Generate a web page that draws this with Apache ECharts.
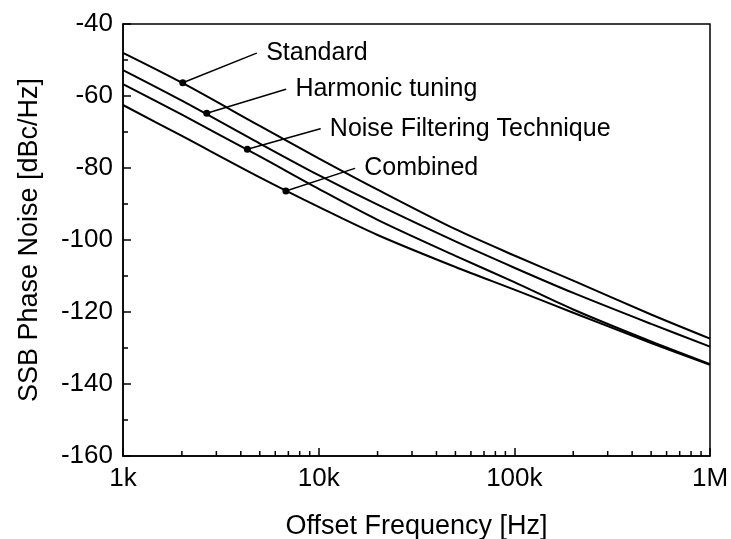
<!DOCTYPE html>
<html>
<head>
<meta charset="utf-8">
<script src="https://cdn.jsdelivr.net/npm/echarts@6/dist/echarts.min.js"></script>
<style>
  html, body { margin: 0; padding: 0; background: #fff; }
  #main { width: 731px; height: 539px; }
</style>
</head>
<body>
<div id="main"></div>
<script>
// offset frequency points (Hz)
var freqs = [1000, 2000, 5000, 10000, 20000, 50000, 100000, 200000, 500000, 1000000];

// SSB phase noise, dBc/Hz
var standard = [-48.0, -56.3, -68.3, -77.3, -86.0, -97.0, -104.3, -111.3, -120.7, -127.4];
var harmonic = [-52.8, -61.3, -73.2, -82.0, -90.2, -100.4, -107.7, -114.7, -123.3, -129.6];
var noiseFilt = [-56.7, -65.2, -76.8, -85.8, -94.4, -104.4, -111.7, -119.3, -128.2, -134.5];
var combined = [-62.5, -71.1, -82.6, -90.8, -98.6, -107.5, -113.8, -120.2, -128.6, -134.7];

// annotation: [dot freq, dot value, leader end freq, leader end value]
var annStandard = [2020, -56.3, 4820, -48.1];
var annHarmonic = [2680, -64.8, 6800, -58.1];
var annNoise = [4320, -74.8, 10200, -69.1];
var annCombined = [6800, -86.4, 15300, -80.1];

var xTickLabels = { 1000: '1k', 10000: '10k', 100000: '100k', 1000000: '1M' };
var decades = [1000, 10000, 100000];
var minorMult = [2, 3, 4, 5, 6, 7, 8, 9];

var FONT = '"Liberation Sans", Arial, sans-serif';

function pairs(ys) {
  var out = [];
  for (var i = 0; i < freqs.length; i++) out.push([freqs[i], ys[i]]);
  return out;
}

function curve(name, ys) {
  return {
    name: name,
    type: 'line',
    data: pairs(ys),
    smooth: 0.3,
    symbol: 'none',
    lineStyle: { color: '#000', width: 2 },
    silent: true
  };
}

function leader(name, a) {
  return {
    name: name + ' label',
    type: 'line',
    showAllSymbol: true,
    data: [
      { value: [a[0], a[1]], symbol: 'circle', symbolSize: 7 },
      {
        value: [a[2], a[3]], symbol: 'circle', symbolSize: 1,
        label: {
          show: true, position: 'right', distance: 9,
          formatter: name, color: '#000', fontSize: 25, fontFamily: FONT
        }
      }
    ],
    lineStyle: { color: '#000', width: 1.5 },
    itemStyle: { color: '#000' },
    labelLayout: { hideOverlap: false },
    silent: true
  };
}

var minorTicks = [];
decades.forEach(function (d) {
  minorMult.forEach(function (m) { minorTicks.push([d * m, -160]); });
});

var chart = echarts.init(document.getElementById('main'));
chart.setOption({
  animation: false,
  backgroundColor: '#fff',
  grid: {
    left: 123, right: 21, top: 24, bottom: 83,
    outerBoundsMode: 'none',
    show: true, borderColor: '#000', borderWidth: 1.5
  },
  xAxis: {
    type: 'log',
    logBase: 10,
    min: 1000,
    max: 1000000,
    name: 'Offset Frequency [Hz]',
    nameLocation: 'middle',
    nameGap: 57,
    nameTextStyle: { color: '#000', fontSize: 27, fontFamily: FONT },
    axisLine: { lineStyle: { color: '#000', width: 1.5 } },
    axisTick: { inside: true, length: 8, lineStyle: { color: '#000', width: 1.5 } },
    axisLabel: {
      color: '#000', fontSize: 26, fontFamily: FONT, margin: 10,
      formatter: function (v) { return xTickLabels[Math.round(v)] || ''; }
    },
    splitLine: { show: false }
  },
  yAxis: {
    type: 'value',
    min: -160,
    max: -40,
    interval: 20,
    name: 'SSB Phase Noise [dBc/Hz]',
    nameLocation: 'middle',
    nameGap: 80,
    nameTextStyle: { color: '#000', fontSize: 27, fontFamily: FONT },
    axisLine: { lineStyle: { color: '#000', width: 1.5 } },
    axisTick: { inside: true, length: 8, lineStyle: { color: '#000', width: 1.5 } },
    minorTick: { show: true, splitNumber: 2, length: 5, lineStyle: { color: '#000', width: 1.5 } },
    axisLabel: { color: '#000', fontSize: 26, fontFamily: FONT, margin: 10 },
    splitLine: { show: false }
  },
  series: [
    curve('Standard', standard),
    curve('Harmonic tuning', harmonic),
    curve('Noise Filtering Technique', noiseFilt),
    curve('Combined', combined),
    leader('Standard', annStandard),
    leader('Harmonic tuning', annHarmonic),
    leader('Noise Filtering Technique', annNoise),
    leader('Combined', annCombined),
    {
      type: 'custom',
      silent: true,
      clip: false,
      data: minorTicks,
      renderItem: function (params, api) {
        var p = api.coord([api.value(0), api.value(1)]);
        return {
          type: 'line',
          shape: { x1: p[0], y1: p[1], x2: p[0], y2: p[1] - 5 },
          style: { stroke: '#000', lineWidth: 1.5 }
        };
      }
    }
  ]
});
</script>
</body>
</html>
